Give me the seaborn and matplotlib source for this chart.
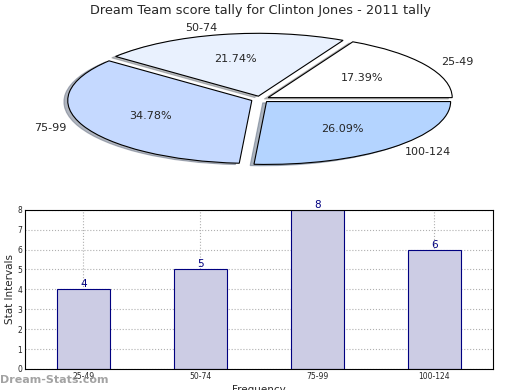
import matplotlib
matplotlib.use("Agg")
import matplotlib.pyplot as plt
import seaborn as sns
import pandas as pd

categories = ["25-49", "50-74", "75-99", "100-124"]
counts = [4, 5, 8, 6]
pie_colors = ["#ffffff", "#e9f1fe", "#c5d9ff", "#b4d4ff"]

sns.set_style("white")
plt.rcParams['font.family'] = ['DejaVu Sans']

fig = plt.figure(figsize=(5.2, 3.9), dpi=100)

# Pie
axp = fig.add_axes([0.058, 0.544, 0.885, 0.403])
axp.pie(counts, labels=categories, colors=pie_colors, autopct="%1.2f%%",
        explode=[0.05] * 4, shadow=dict(ox=-0.015, oy=-0.015, shade=0.5),
        startangle=0,
        wedgeprops=dict(edgecolor="black", linewidth=0.8),
        textprops=dict(fontsize=8))
axp.set_aspect("auto")
axp.set_xlim(-1.25, 1.25)
axp.set_ylim(-1.25, 1.25)
fig.text(0.5, 0.973, "Dream Team score tally for Clinton Jones - 2011 tally",
         ha="center", va="center", fontsize=9.3)

# Bar
axb = fig.add_axes([0.048, 0.054, 0.9, 0.408])
df = pd.DataFrame({"cat": categories, "val": counts})
sns.barplot(data=df, x="cat", y="val", ax=axb, color="#ccccE4", width=0.45,
            edgecolor="#000080", linewidth=0.8, saturation=1)
axb.set_xlim(-0.5, 3.5)
axb.set_ylim(0, 8)
axb.set_yticks(range(0, 9))
axb.grid(True, linestyle=":", color="#b0b0b0", linewidth=0.8)
axb.set_axisbelow(True)
for i, v in enumerate(counts):
    axb.text(i, v, str(v), ha="center", va="bottom", color="#000080", fontsize=7.5)
axb.tick_params(axis="both", labelsize=5.5, direction="in", length=2, pad=2)
axb.set_ylabel("Stat Intervals", fontsize=7.5, labelpad=2)
axb.set_xlabel("Frequency", fontsize=7.5, labelpad=3)
for s in axb.spines.values():
    s.set_color("black")
    s.set_linewidth(0.8)

fig.text(0.0, 0.025, "Dream-Stats.com", color="#999999", fontsize=8,
         fontweight="bold", ha="left", va="center", alpha=0.9)

fig.savefig("out.png", dpi=100)
